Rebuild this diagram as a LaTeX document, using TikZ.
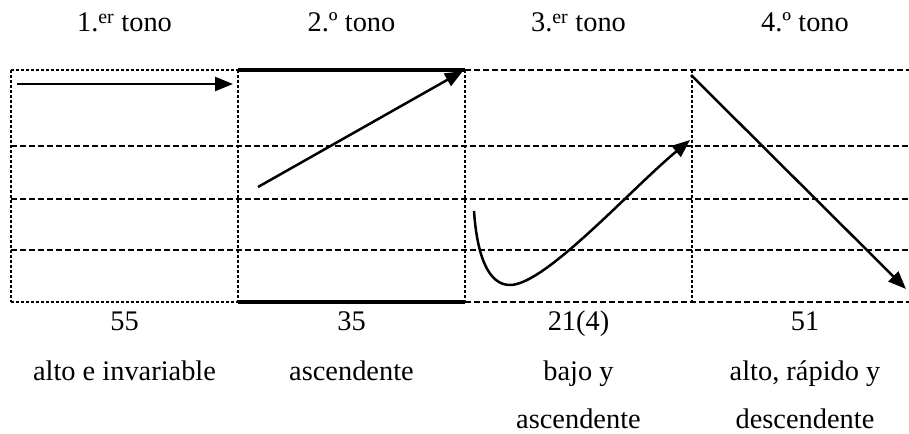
\documentclass[tikz,border=0pt]{standalone}
\usepackage{fontspec}
\setmainfont{Liberation Serif}
\usetikzlibrary{arrows.meta}
\begin{document}
\begin{tikzpicture}[x=1bp,y=-1bp,
  fine/.style={line width=2bp, dash pattern=on 3bp off 2bp},
  dsh/.style={line width=2bp, dash pattern=on 6bp off 3bp},
  solidb/.style={line width=3.5bp},
  arr/.style={line width=2.5bp, -{Triangle[length=18bp,width=14bp]}},
  lbl/.style={anchor=base, inner sep=0pt, font=\fontsize{28.5}{34}\selectfont}]
\useasboundingbox (0,0) rectangle (909,434);
\begin{scope}
\clip (0,0) rectangle (909,434);
% grid
\foreach \yy in {146,199,250} \draw[dsh] (11,\yy) -- (919,\yy);
\foreach \yy in {70,302} {
  \draw[fine] (11,\yy) -- (238,\yy);
  \draw[dsh] (465,\yy) -- (919,\yy);
  \draw[solidb] (238,\yy) -- (465,\yy);
}
\foreach \xx in {11,238,465,692} \draw[fine] (\xx,70) -- (\xx,302);
\end{scope}
% arrow end points
\coordinate (a1s) at (17,84);   \coordinate (a1e) at (233,84);
\coordinate (a2s) at (258,187); \coordinate (a2e) at (463,71);
\coordinate (a3s) at (474,211); \coordinate (a3m) at (510,285); \coordinate (a3e) at (690,140);
\coordinate (a4s) at (691,75);  \coordinate (a4e) at (906,289);
\draw[arr] (a1s) -- (a1e);
\draw[arr] (a2s) -- (a2e);
\draw[arr] (a3s) .. controls (477,255) and (488,285) .. (a3m)
               .. controls (545,285) and (630,190) .. (a3e);
\draw[arr] (a4s) -- (a4e);
% headers
\node[lbl] (h1) at (124.5,32) {1.\textsuperscript{er} tono};
\node[lbl] (h2) at (351.5,32) {2.º tono};
\node[lbl] (h3) at (578.5,32) {3.\textsuperscript{er} tono};
\node[lbl] (h4) at (805,32) {4.º tono};
% numbers
\node[lbl] (n1) at (124.5,331) {55};
\node[lbl] (n2) at (351.5,331) {35};
\node[lbl] (n3) at (578.5,331) {21(4)};
\node[lbl] (n4) at (805,331) {51};
% descriptions
\node[lbl] (d1) at (124.5,381) {alto e invariable};
\node[lbl] (d2) at (351.5,381) {ascendente};
\node[lbl] (d3) at (578.5,381) {bajo y};
\node[lbl] (d4) at (805,381) {alto, rápido y};
\node[lbl] (e3) at (578.5,428) {ascendente};
\node[lbl] (e4) at (805,428) {descendente};
\end{tikzpicture}
\end{document}
